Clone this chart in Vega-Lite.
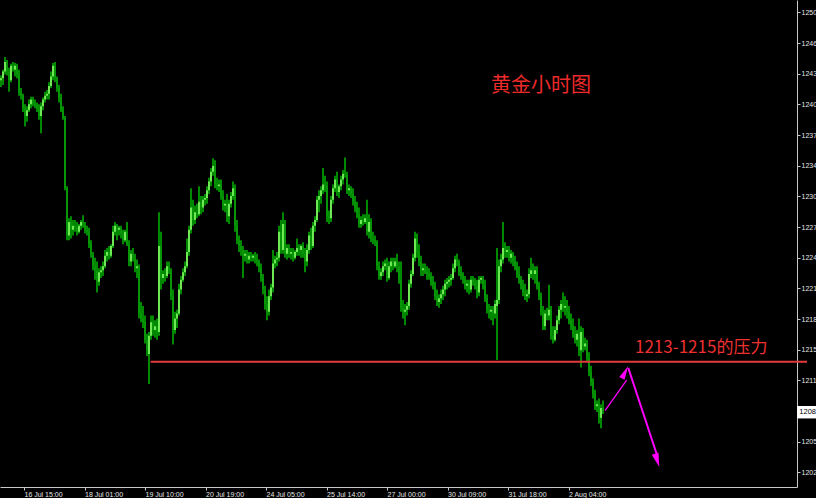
{
"$schema": "https://vega.github.io/schema/vega-lite/v6.json",
"width": 797,
"height": 487,
"autosize": {"type": "none"},
"padding": {"left": 0, "top": 0, "right": 19, "bottom": 11},
"background": "#000000",
"config": {
  "view": {"stroke": null},
  "axis": {"grid": false, "domainColor": "#c8c8c8", "tickColor": "#c8c8c8", "labelColor": "#e6e6e6", "labelFont": "Liberation Sans", "labelFontSize": 7, "title": null, "tickSize": 3, "labelOverlap": false, "labelFlush": false, "tickCount": 40},
  "axisX": {"labelAlign": "left", "labelBaseline": "top", "labelPadding": 0},
  "axisY": {"labelAlign": "left", "labelBaseline": "middle", "labelPadding": 1}
},
"datasets": {
"bars": [
{"i":0,"o":1243.0,"h":1243.5,"l":1242.3,"c":1243.2},
{"i":1,"o":1243.2,"h":1244.1,"l":1242.5,"c":1243.9},
{"i":2,"o":1243.9,"h":1245.4,"l":1243.6,"c":1244.9},
{"i":3,"o":1244.9,"h":1245.1,"l":1243.5,"c":1243.9},
{"i":4,"o":1243.9,"h":1244.3,"l":1241.8,"c":1243.0},
{"i":5,"o":1243.0,"h":1244.7,"l":1242.8,"c":1244.5},
{"i":6,"o":1244.5,"h":1244.9,"l":1243.9,"c":1244.1},
{"i":7,"o":1244.1,"h":1244.8,"l":1243.4,"c":1244.5},
{"i":8,"o":1244.5,"h":1244.7,"l":1243.2,"c":1243.6},
{"i":9,"o":1243.6,"h":1244.1,"l":1241.4,"c":1241.8},
{"i":10,"o":1241.8,"h":1242.2,"l":1241.0,"c":1241.4},
{"i":11,"o":1241.4,"h":1241.6,"l":1239.7,"c":1240.1},
{"i":12,"o":1240.1,"h":1240.5,"l":1238.2,"c":1239.3},
{"i":13,"o":1239.3,"h":1240.3,"l":1238.7,"c":1239.9},
{"i":14,"o":1239.9,"h":1241.0,"l":1239.7,"c":1240.5},
{"i":15,"o":1240.5,"h":1241.3,"l":1240.1,"c":1241.0},
{"i":16,"o":1241.0,"h":1241.3,"l":1240.3,"c":1240.6},
{"i":17,"o":1240.6,"h":1241.0,"l":1240.1,"c":1240.4},
{"i":18,"o":1240.4,"h":1240.7,"l":1239.7,"c":1240.1},
{"i":19,"o":1240.1,"h":1240.5,"l":1238.9,"c":1239.3},
{"i":20,"o":1239.3,"h":1240.7,"l":1237.5,"c":1240.3},
{"i":21,"o":1240.3,"h":1241.2,"l":1239.9,"c":1241.0},
{"i":22,"o":1241.0,"h":1241.8,"l":1240.7,"c":1241.4},
{"i":23,"o":1241.4,"h":1242.0,"l":1241.0,"c":1241.6},
{"i":24,"o":1241.6,"h":1242.8,"l":1241.0,"c":1242.4},
{"i":25,"o":1242.4,"h":1243.9,"l":1242.2,"c":1243.4},
{"i":26,"o":1243.4,"h":1244.8,"l":1243.0,"c":1244.5},
{"i":27,"o":1244.5,"h":1244.9,"l":1242.8,"c":1243.2},
{"i":28,"o":1243.2,"h":1243.4,"l":1241.8,"c":1242.2},
{"i":29,"o":1242.2,"h":1242.5,"l":1240.7,"c":1241.2},
{"i":30,"o":1241.2,"h":1241.6,"l":1239.7,"c":1239.9},
{"i":31,"o":1239.9,"h":1240.3,"l":1238.9,"c":1239.1},
{"i":32,"o":1239.1,"h":1239.3,"l":1231.6,"c":1231.8},
{"i":33,"o":1231.8,"h":1232.0,"l":1226.4,"c":1226.9},
{"i":34,"o":1226.9,"h":1228.7,"l":1226.4,"c":1228.3},
{"i":35,"o":1228.3,"h":1228.9,"l":1226.6,"c":1227.5},
{"i":36,"o":1227.5,"h":1228.5,"l":1226.9,"c":1227.9},
{"i":37,"o":1227.9,"h":1228.5,"l":1227.3,"c":1227.7},
{"i":38,"o":1227.7,"h":1228.3,"l":1226.9,"c":1227.3},
{"i":39,"o":1227.3,"h":1228.1,"l":1227.1,"c":1227.9},
{"i":40,"o":1227.9,"h":1228.5,"l":1227.5,"c":1228.3},
{"i":41,"o":1228.3,"h":1229.0,"l":1227.7,"c":1228.0},
{"i":42,"o":1228.0,"h":1228.3,"l":1227.1,"c":1227.5},
{"i":43,"o":1227.5,"h":1227.9,"l":1226.9,"c":1227.3},
{"i":44,"o":1227.3,"h":1227.7,"l":1225.6,"c":1226.0},
{"i":45,"o":1226.0,"h":1226.4,"l":1224.6,"c":1224.9},
{"i":46,"o":1224.9,"h":1225.2,"l":1223.3,"c":1223.7},
{"i":47,"o":1223.7,"h":1224.6,"l":1222.3,"c":1223.3},
{"i":48,"o":1223.3,"h":1224.2,"l":1221.0,"c":1222.1},
{"i":49,"o":1222.1,"h":1223.5,"l":1221.7,"c":1223.1},
{"i":50,"o":1223.1,"h":1223.7,"l":1222.5,"c":1223.3},
{"i":51,"o":1223.3,"h":1224.2,"l":1222.7,"c":1223.7},
{"i":52,"o":1223.7,"h":1225.4,"l":1223.5,"c":1224.8},
{"i":53,"o":1224.8,"h":1225.6,"l":1224.2,"c":1225.2},
{"i":54,"o":1225.2,"h":1225.8,"l":1224.4,"c":1224.8},
{"i":55,"o":1224.8,"h":1226.0,"l":1224.6,"c":1225.8},
{"i":56,"o":1225.8,"h":1227.9,"l":1225.6,"c":1227.3},
{"i":57,"o":1227.3,"h":1228.3,"l":1226.9,"c":1227.9},
{"i":58,"o":1227.9,"h":1228.1,"l":1226.4,"c":1227.5},
{"i":59,"o":1227.5,"h":1227.9,"l":1226.9,"c":1227.7},
{"i":60,"o":1227.7,"h":1227.9,"l":1226.6,"c":1227.1},
{"i":61,"o":1227.1,"h":1227.5,"l":1226.0,"c":1226.4},
{"i":62,"o":1226.4,"h":1227.5,"l":1226.2,"c":1227.3},
{"i":63,"o":1227.3,"h":1228.3,"l":1225.8,"c":1226.0},
{"i":64,"o":1226.0,"h":1226.4,"l":1223.7,"c":1224.2},
{"i":65,"o":1224.2,"h":1225.4,"l":1223.7,"c":1225.0},
{"i":66,"o":1225.0,"h":1225.6,"l":1224.2,"c":1224.6},
{"i":67,"o":1224.6,"h":1225.0,"l":1223.1,"c":1223.5},
{"i":68,"o":1223.5,"h":1224.4,"l":1222.5,"c":1223.7},
{"i":69,"o":1223.7,"h":1223.9,"l":1218.3,"c":1218.8},
{"i":70,"o":1218.8,"h":1220.0,"l":1217.9,"c":1218.3},
{"i":71,"o":1218.3,"h":1219.6,"l":1217.3,"c":1217.9},
{"i":72,"o":1217.9,"h":1218.6,"l":1215.7,"c":1216.1},
{"i":73,"o":1216.1,"h":1216.7,"l":1214.4,"c":1215.0},
{"i":74,"o":1214.6,"h":1216.9,"l":1211.5,"c":1216.5},
{"i":75,"o":1216.5,"h":1218.6,"l":1216.1,"c":1217.9},
{"i":76,"o":1217.9,"h":1218.6,"l":1216.5,"c":1217.1},
{"i":77,"o":1217.1,"h":1218.1,"l":1216.3,"c":1217.5},
{"i":78,"o":1217.5,"h":1218.3,"l":1216.1,"c":1216.9},
{"i":79,"o":1216.9,"h":1229.3,"l":1216.5,"c":1225.8},
{"i":80,"o":1225.8,"h":1227.3,"l":1221.3,"c":1222.5},
{"i":81,"o":1222.5,"h":1223.3,"l":1221.9,"c":1222.9},
{"i":82,"o":1222.9,"h":1223.5,"l":1222.1,"c":1222.7},
{"i":83,"o":1222.7,"h":1224.2,"l":1222.5,"c":1223.7},
{"i":84,"o":1223.7,"h":1224.2,"l":1222.9,"c":1223.3},
{"i":85,"o":1223.3,"h":1223.5,"l":1220.2,"c":1220.6},
{"i":86,"o":1220.6,"h":1221.3,"l":1215.6,"c":1217.1},
{"i":87,"o":1217.1,"h":1219.0,"l":1216.7,"c":1218.3},
{"i":88,"o":1218.3,"h":1219.2,"l":1217.3,"c":1218.8},
{"i":89,"o":1218.8,"h":1221.9,"l":1218.6,"c":1221.3},
{"i":90,"o":1221.3,"h":1222.7,"l":1220.8,"c":1222.3},
{"i":91,"o":1222.3,"h":1223.5,"l":1222.1,"c":1223.1},
{"i":92,"o":1223.1,"h":1224.2,"l":1222.7,"c":1223.7},
{"i":93,"o":1223.7,"h":1226.6,"l":1223.5,"c":1225.2},
{"i":94,"o":1225.2,"h":1227.9,"l":1224.8,"c":1227.5},
{"i":95,"o":1227.5,"h":1231.8,"l":1227.1,"c":1229.8},
{"i":96,"o":1229.8,"h":1230.6,"l":1227.9,"c":1228.5},
{"i":97,"o":1228.5,"h":1230.0,"l":1228.1,"c":1229.3},
{"i":98,"o":1229.3,"h":1230.2,"l":1228.7,"c":1229.1},
{"i":99,"o":1229.1,"h":1232.0,"l":1228.9,"c":1230.4},
{"i":100,"o":1230.4,"h":1231.0,"l":1229.1,"c":1229.8},
{"i":101,"o":1229.8,"h":1231.0,"l":1229.3,"c":1230.6},
{"i":102,"o":1230.6,"h":1231.2,"l":1230.0,"c":1230.8},
{"i":103,"o":1230.8,"h":1232.0,"l":1230.2,"c":1231.6},
{"i":104,"o":1231.6,"h":1232.9,"l":1231.2,"c":1232.5},
{"i":105,"o":1232.5,"h":1233.9,"l":1232.0,"c":1233.5},
{"i":106,"o":1233.5,"h":1234.9,"l":1233.1,"c":1234.1},
{"i":107,"o":1234.1,"h":1234.7,"l":1231.8,"c":1232.2},
{"i":108,"o":1232.2,"h":1232.9,"l":1231.6,"c":1232.0},
{"i":109,"o":1232.0,"h":1232.7,"l":1231.4,"c":1232.2},
{"i":110,"o":1232.2,"h":1232.7,"l":1230.6,"c":1231.0},
{"i":111,"o":1231.0,"h":1231.6,"l":1229.5,"c":1230.0},
{"i":112,"o":1230.0,"h":1230.6,"l":1229.3,"c":1230.2},
{"i":113,"o":1230.2,"h":1231.2,"l":1228.3,"c":1228.9},
{"i":114,"o":1228.9,"h":1230.6,"l":1228.1,"c":1230.2},
{"i":115,"o":1230.2,"h":1231.4,"l":1229.8,"c":1231.0},
{"i":116,"o":1231.0,"h":1232.5,"l":1230.6,"c":1231.8},
{"i":117,"o":1231.8,"h":1232.2,"l":1227.3,"c":1227.9},
{"i":118,"o":1227.9,"h":1228.5,"l":1226.0,"c":1226.4},
{"i":119,"o":1226.4,"h":1226.9,"l":1225.2,"c":1225.8},
{"i":120,"o":1225.8,"h":1226.4,"l":1224.8,"c":1225.4},
{"i":121,"o":1225.4,"h":1225.8,"l":1222.5,"c":1224.8},
{"i":122,"o":1224.8,"h":1225.4,"l":1224.2,"c":1225.0},
{"i":123,"o":1225.0,"h":1225.4,"l":1224.0,"c":1224.4},
{"i":124,"o":1224.4,"h":1225.2,"l":1224.0,"c":1224.8},
{"i":125,"o":1224.8,"h":1225.2,"l":1224.2,"c":1224.6},
{"i":126,"o":1224.6,"h":1225.0,"l":1224.2,"c":1224.8},
{"i":127,"o":1224.8,"h":1225.2,"l":1224.0,"c":1224.4},
{"i":128,"o":1224.4,"h":1225.0,"l":1223.7,"c":1224.2},
{"i":129,"o":1224.2,"h":1224.4,"l":1223.1,"c":1223.5},
{"i":130,"o":1223.5,"h":1224.0,"l":1222.1,"c":1222.5},
{"i":131,"o":1222.5,"h":1222.9,"l":1220.8,"c":1221.3},
{"i":132,"o":1221.3,"h":1221.7,"l":1219.2,"c":1219.8},
{"i":133,"o":1219.8,"h":1220.6,"l":1218.1,"c":1219.0},
{"i":134,"o":1219.0,"h":1221.3,"l":1218.6,"c":1220.6},
{"i":135,"o":1220.6,"h":1221.9,"l":1220.2,"c":1221.5},
{"i":136,"o":1221.5,"h":1225.4,"l":1221.0,"c":1224.0},
{"i":137,"o":1224.0,"h":1224.8,"l":1223.5,"c":1224.4},
{"i":138,"o":1224.4,"h":1225.2,"l":1223.7,"c":1224.6},
{"i":139,"o":1224.6,"h":1227.9,"l":1224.2,"c":1227.3},
{"i":140,"o":1227.3,"h":1228.5,"l":1225.0,"c":1225.4},
{"i":141,"o":1225.4,"h":1229.3,"l":1225.0,"c":1228.1},
{"i":142,"o":1228.1,"h":1228.5,"l":1224.6,"c":1225.0},
{"i":143,"o":1225.0,"h":1226.0,"l":1224.4,"c":1225.6},
{"i":144,"o":1225.6,"h":1226.0,"l":1224.6,"c":1225.0},
{"i":145,"o":1225.0,"h":1225.6,"l":1224.4,"c":1225.2},
{"i":146,"o":1225.2,"h":1225.6,"l":1224.2,"c":1224.6},
{"i":147,"o":1224.6,"h":1225.4,"l":1224.4,"c":1225.2},
{"i":148,"o":1225.2,"h":1226.6,"l":1224.8,"c":1225.6},
{"i":149,"o":1225.6,"h":1226.0,"l":1224.8,"c":1225.4},
{"i":150,"o":1225.4,"h":1226.0,"l":1224.6,"c":1225.8},
{"i":151,"o":1225.8,"h":1226.2,"l":1224.6,"c":1225.0},
{"i":152,"o":1225.0,"h":1225.6,"l":1223.1,"c":1224.2},
{"i":153,"o":1224.2,"h":1226.0,"l":1223.7,"c":1225.4},
{"i":154,"o":1225.4,"h":1227.3,"l":1225.0,"c":1226.9},
{"i":155,"o":1226.9,"h":1227.7,"l":1225.4,"c":1225.8},
{"i":156,"o":1225.8,"h":1228.3,"l":1225.6,"c":1227.9},
{"i":157,"o":1227.9,"h":1228.9,"l":1227.3,"c":1228.5},
{"i":158,"o":1228.5,"h":1231.0,"l":1228.3,"c":1230.6},
{"i":159,"o":1230.6,"h":1231.6,"l":1229.3,"c":1231.0},
{"i":160,"o":1231.0,"h":1232.0,"l":1230.2,"c":1231.6},
{"i":161,"o":1231.6,"h":1233.9,"l":1231.2,"c":1232.2},
{"i":162,"o":1232.2,"h":1233.1,"l":1231.4,"c":1232.0},
{"i":163,"o":1232.0,"h":1232.5,"l":1228.3,"c":1228.9},
{"i":164,"o":1228.9,"h":1229.5,"l":1228.1,"c":1228.7},
{"i":165,"o":1228.7,"h":1231.0,"l":1228.3,"c":1230.6},
{"i":166,"o":1230.6,"h":1232.2,"l":1230.2,"c":1231.8},
{"i":167,"o":1231.8,"h":1233.1,"l":1231.4,"c":1232.7},
{"i":168,"o":1232.7,"h":1233.5,"l":1231.0,"c":1231.4},
{"i":169,"o":1231.4,"h":1232.2,"l":1230.8,"c":1232.0},
{"i":170,"o":1232.0,"h":1233.1,"l":1231.6,"c":1232.7},
{"i":171,"o":1232.7,"h":1233.7,"l":1232.2,"c":1233.3},
{"i":172,"o":1233.3,"h":1235.0,"l":1232.9,"c":1233.2},
{"i":173,"o":1233.2,"h":1233.5,"l":1231.2,"c":1231.6},
{"i":174,"o":1231.6,"h":1232.2,"l":1231.0,"c":1231.8},
{"i":175,"o":1231.8,"h":1232.0,"l":1230.8,"c":1231.2},
{"i":176,"o":1231.2,"h":1231.8,"l":1230.0,"c":1230.4},
{"i":177,"o":1230.4,"h":1231.0,"l":1229.3,"c":1229.8},
{"i":178,"o":1229.8,"h":1230.4,"l":1228.7,"c":1229.1},
{"i":179,"o":1229.1,"h":1229.8,"l":1227.7,"c":1228.1},
{"i":180,"o":1228.1,"h":1228.9,"l":1227.7,"c":1228.5},
{"i":181,"o":1228.5,"h":1229.1,"l":1227.9,"c":1228.3},
{"i":182,"o":1228.3,"h":1229.1,"l":1228.1,"c":1228.7},
{"i":183,"o":1228.7,"h":1230.6,"l":1226.9,"c":1227.3},
{"i":184,"o":1227.3,"h":1229.1,"l":1226.6,"c":1228.3},
{"i":185,"o":1228.3,"h":1228.7,"l":1226.2,"c":1226.6},
{"i":186,"o":1226.6,"h":1227.3,"l":1226.0,"c":1226.4},
{"i":187,"o":1226.4,"h":1226.9,"l":1225.8,"c":1226.2},
{"i":188,"o":1226.2,"h":1226.4,"l":1223.3,"c":1223.7},
{"i":189,"o":1223.7,"h":1224.2,"l":1222.3,"c":1222.7},
{"i":190,"o":1222.7,"h":1223.5,"l":1222.3,"c":1223.1},
{"i":191,"o":1223.1,"h":1224.2,"l":1222.7,"c":1223.7},
{"i":192,"o":1223.7,"h":1224.4,"l":1223.3,"c":1224.0},
{"i":193,"o":1224.0,"h":1224.6,"l":1222.1,"c":1222.5},
{"i":194,"o":1222.5,"h":1224.2,"l":1222.3,"c":1223.7},
{"i":195,"o":1223.7,"h":1224.6,"l":1223.1,"c":1224.2},
{"i":196,"o":1224.2,"h":1224.6,"l":1223.3,"c":1223.7},
{"i":197,"o":1223.7,"h":1224.6,"l":1223.5,"c":1224.2},
{"i":198,"o":1224.2,"h":1225.0,"l":1223.1,"c":1223.7},
{"i":199,"o":1223.7,"h":1224.2,"l":1221.9,"c":1222.3},
{"i":200,"o":1222.3,"h":1224.2,"l":1219.0,"c":1219.4},
{"i":201,"o":1219.4,"h":1220.2,"l":1218.3,"c":1219.0},
{"i":202,"o":1219.0,"h":1219.8,"l":1217.6,"c":1219.2},
{"i":203,"o":1219.2,"h":1220.0,"l":1218.6,"c":1219.6},
{"i":204,"o":1219.6,"h":1222.3,"l":1219.2,"c":1221.9},
{"i":205,"o":1221.9,"h":1223.3,"l":1221.5,"c":1222.9},
{"i":206,"o":1222.9,"h":1225.0,"l":1222.7,"c":1224.6},
{"i":207,"o":1224.6,"h":1227.3,"l":1224.2,"c":1226.6},
{"i":208,"o":1226.6,"h":1227.1,"l":1224.6,"c":1225.2},
{"i":209,"o":1225.2,"h":1226.0,"l":1223.7,"c":1224.2},
{"i":210,"o":1224.2,"h":1224.8,"l":1222.7,"c":1223.3},
{"i":211,"o":1223.3,"h":1224.0,"l":1222.7,"c":1223.5},
{"i":212,"o":1223.5,"h":1224.0,"l":1222.9,"c":1223.1},
{"i":213,"o":1223.1,"h":1223.7,"l":1222.3,"c":1222.9},
{"i":214,"o":1222.9,"h":1223.5,"l":1222.3,"c":1222.7},
{"i":215,"o":1222.7,"h":1223.1,"l":1221.7,"c":1222.1},
{"i":216,"o":1222.1,"h":1222.7,"l":1221.3,"c":1221.7},
{"i":217,"o":1221.7,"h":1222.1,"l":1220.2,"c":1220.6},
{"i":218,"o":1220.6,"h":1221.3,"l":1219.6,"c":1220.0},
{"i":219,"o":1220.0,"h":1220.8,"l":1219.4,"c":1220.4},
{"i":220,"o":1220.4,"h":1221.3,"l":1219.8,"c":1220.8},
{"i":221,"o":1220.8,"h":1221.7,"l":1220.2,"c":1221.3},
{"i":222,"o":1221.3,"h":1222.3,"l":1220.6,"c":1221.9},
{"i":223,"o":1221.9,"h":1222.5,"l":1221.3,"c":1222.1},
{"i":224,"o":1222.1,"h":1222.7,"l":1221.5,"c":1222.3},
{"i":225,"o":1222.3,"h":1222.9,"l":1221.7,"c":1222.5},
{"i":226,"o":1222.5,"h":1224.0,"l":1222.3,"c":1223.5},
{"i":227,"o":1223.5,"h":1224.8,"l":1223.1,"c":1224.4},
{"i":228,"o":1224.4,"h":1225.0,"l":1223.7,"c":1224.2},
{"i":229,"o":1224.2,"h":1224.4,"l":1222.7,"c":1223.1},
{"i":230,"o":1223.1,"h":1223.7,"l":1222.3,"c":1222.7},
{"i":231,"o":1222.7,"h":1223.1,"l":1221.9,"c":1222.3},
{"i":232,"o":1222.3,"h":1222.7,"l":1221.3,"c":1221.7},
{"i":233,"o":1221.7,"h":1222.3,"l":1221.0,"c":1221.9},
{"i":234,"o":1221.9,"h":1222.3,"l":1220.8,"c":1221.3},
{"i":235,"o":1221.3,"h":1222.7,"l":1221.0,"c":1222.3},
{"i":236,"o":1222.3,"h":1222.7,"l":1221.7,"c":1222.1},
{"i":237,"o":1222.1,"h":1222.5,"l":1221.3,"c":1221.7},
{"i":238,"o":1221.7,"h":1222.3,"l":1220.4,"c":1221.0},
{"i":239,"o":1221.0,"h":1222.7,"l":1220.6,"c":1222.3},
{"i":240,"o":1222.3,"h":1222.7,"l":1221.9,"c":1222.5},
{"i":241,"o":1222.5,"h":1222.7,"l":1221.3,"c":1221.7},
{"i":242,"o":1221.7,"h":1222.3,"l":1220.0,"c":1220.4},
{"i":243,"o":1220.4,"h":1220.8,"l":1218.8,"c":1219.2},
{"i":244,"o":1219.2,"h":1219.8,"l":1218.3,"c":1219.0},
{"i":245,"o":1219.0,"h":1219.6,"l":1218.1,"c":1219.2},
{"i":246,"o":1219.2,"h":1219.6,"l":1217.6,"c":1218.8},
{"i":247,"o":1218.8,"h":1220.2,"l":1218.3,"c":1219.8},
{"i":248,"o":1219.6,"h":1225.6,"l":1214.0,"c":1220.2},
{"i":249,"o":1220.2,"h":1224.4,"l":1219.8,"c":1223.7},
{"i":250,"o":1223.7,"h":1225.0,"l":1223.1,"c":1224.4},
{"i":251,"o":1224.4,"h":1228.3,"l":1224.0,"c":1225.6},
{"i":252,"o":1225.6,"h":1226.2,"l":1224.6,"c":1225.2},
{"i":253,"o":1225.2,"h":1225.8,"l":1224.6,"c":1225.4},
{"i":254,"o":1225.4,"h":1225.8,"l":1224.2,"c":1224.6},
{"i":255,"o":1224.6,"h":1225.4,"l":1224.0,"c":1225.0},
{"i":256,"o":1225.0,"h":1225.2,"l":1223.7,"c":1224.2},
{"i":257,"o":1224.2,"h":1224.8,"l":1223.3,"c":1223.7},
{"i":258,"o":1223.7,"h":1224.2,"l":1222.5,"c":1222.9},
{"i":259,"o":1222.9,"h":1223.7,"l":1221.9,"c":1222.3},
{"i":260,"o":1222.3,"h":1222.7,"l":1221.3,"c":1221.7},
{"i":261,"o":1221.7,"h":1222.3,"l":1220.6,"c":1221.0},
{"i":262,"o":1221.0,"h":1221.9,"l":1220.2,"c":1220.6},
{"i":263,"o":1220.6,"h":1221.3,"l":1220.0,"c":1220.8},
{"i":264,"o":1220.8,"h":1223.5,"l":1220.4,"c":1222.9},
{"i":265,"o":1222.9,"h":1224.6,"l":1222.5,"c":1223.3},
{"i":266,"o":1223.3,"h":1224.0,"l":1222.3,"c":1222.9},
{"i":267,"o":1222.9,"h":1223.7,"l":1221.9,"c":1223.3},
{"i":268,"o":1223.3,"h":1223.7,"l":1221.3,"c":1221.7},
{"i":269,"o":1221.7,"h":1222.1,"l":1220.2,"c":1220.6},
{"i":270,"o":1220.6,"h":1221.0,"l":1218.6,"c":1219.0},
{"i":271,"o":1219.0,"h":1219.6,"l":1217.1,"c":1217.5},
{"i":272,"o":1217.5,"h":1219.2,"l":1217.1,"c":1218.8},
{"i":273,"o":1218.8,"h":1219.4,"l":1218.1,"c":1218.6},
{"i":274,"o":1218.6,"h":1221.8,"l":1218.1,"c":1219.2},
{"i":275,"o":1219.2,"h":1219.6,"l":1216.1,"c":1216.5},
{"i":276,"o":1216.5,"h":1217.5,"l":1215.7,"c":1216.1},
{"i":277,"o":1216.1,"h":1217.5,"l":1215.9,"c":1217.1},
{"i":278,"o":1217.1,"h":1218.6,"l":1216.7,"c":1218.1},
{"i":279,"o":1218.1,"h":1219.6,"l":1217.7,"c":1219.2},
{"i":280,"o":1219.2,"h":1220.2,"l":1218.3,"c":1219.8},
{"i":281,"o":1219.8,"h":1221.0,"l":1219.0,"c":1219.4},
{"i":282,"o":1219.4,"h":1220.6,"l":1218.6,"c":1219.6},
{"i":283,"o":1219.6,"h":1220.2,"l":1218.3,"c":1219.0},
{"i":284,"o":1219.0,"h":1219.6,"l":1217.7,"c":1218.1},
{"i":285,"o":1218.1,"h":1218.8,"l":1217.1,"c":1217.5},
{"i":286,"o":1217.5,"h":1218.3,"l":1216.3,"c":1216.7},
{"i":287,"o":1216.7,"h":1217.5,"l":1215.7,"c":1216.1},
{"i":288,"o":1216.1,"h":1217.1,"l":1215.4,"c":1216.7},
{"i":289,"o":1216.7,"h":1218.3,"l":1214.4,"c":1215.0},
{"i":290,"o":1215.0,"h":1217.5,"l":1213.2,"c":1216.9},
{"i":291,"o":1216.9,"h":1217.3,"l":1214.8,"c":1215.4},
{"i":292,"o":1215.4,"h":1216.3,"l":1215.0,"c":1215.7},
{"i":293,"o":1215.7,"h":1216.1,"l":1213.8,"c":1214.2},
{"i":294,"o":1214.2,"h":1214.8,"l":1212.3,"c":1212.7},
{"i":295,"o":1212.7,"h":1213.4,"l":1211.3,"c":1211.7},
{"i":296,"o":1211.7,"h":1212.1,"l":1210.0,"c":1210.5},
{"i":297,"o":1210.5,"h":1210.9,"l":1208.8,"c":1209.2},
{"i":298,"o":1209.2,"h":1209.8,"l":1208.6,"c":1209.4},
{"i":299,"o":1209.4,"h":1210.0,"l":1207.4,"c":1208.0},
{"i":300,"o":1208.0,"h":1209.4,"l":1206.9,"c":1209.0},
{"i":301,"o":1209.0,"h":1209.8,"l":1208.4,"c":1208.6}
]
},
"layer": [
{
  "data": {"name": "bars"},
  "mark": {"type": "rule", "strokeWidth": 1.3, "color": "#00d200"},
  "encoding": {
    "x": {"field": "i", "type": "quantitative", "scale": {"domain": [-0.5, 398], "nice": false, "zero": false, "padding": 0},
      "axis": {"values": [11.5, 41.75, 72, 102.25, 132.5, 162.75, 193, 223.25, 253.5, 283.75],
        "labelExpr": "['16 Jul 15:00','18 Jul 01:00','19 Jul 10:00','20 Jul 19:00','24 Jul 05:00','25 Jul 14:00','27 Jul 00:00','30 Jul 09:00','31 Jul 18:00','2 Aug 04:00'][indexof([11.5,41.75,72,102.25,132.5,162.75,193,223.25,253.5,283.75], datum.value)]"}},
    "y": {"field": "l", "type": "quantitative", "scale": {"domain": [1200.82, 1251.32], "nice": false, "zero": false, "padding": 0},
      "axis": {"orient": "right", "tickCount": 40, "values": [1250.04, 1246.86, 1243.68, 1240.5, 1237.32, 1234.14, 1230.96, 1227.78, 1224.6, 1221.42, 1218.24, 1215.06, 1211.88, 1205.52, 1202.34], "labelExpr": "'' + floor(datum.value)"}},
    "y2": {"field": "h"}
  }
},
{
  "data": {"name": "bars"},
  "mark": {"type": "bar", "size": 1.6},
  "encoding": {
    "x": {"field": "i", "type": "quantitative"},
    "y": {"field": "o", "type": "quantitative"},
    "y2": {"field": "c"},
    "color": {"condition": {"test": "datum.c >= datum.o", "value": "#8cff6a"}, "value": "#0a9a0a"}
  }
},
{
  "data": {"values": [{"i": 74.85, "i2": 403, "p": 1213.82}]},
  "mark": {"type": "rule", "color": "#e33b3b", "strokeWidth": 2, "clip": false},
  "encoding": {
    "x": {"field": "i", "type": "quantitative"},
    "x2": {"field": "i2"},
    "y": {"field": "p", "type": "quantitative"}
  }
},
{
  "data": {"values": [{"i": 302, "p": 1208.73, "i2": 312.85, "p2": 1211.9}]},
  "mark": {"type": "rule", "color": "#ff00ff", "strokeWidth": 1.3},
  "encoding": {
    "x": {"field": "i", "type": "quantitative"},
    "x2": {"field": "i2"},
    "y": {"field": "p", "type": "quantitative"},
    "y2": {"field": "p2"}
  }
},
{
  "data": {"values": [{"i": 313.65, "p": 1213.16, "i2": 327.75, "p2": 1204.3}]},
  "mark": {"type": "rule", "color": "#ff00ff", "strokeWidth": 2},
  "encoding": {
    "x": {"field": "i", "type": "quantitative"},
    "x2": {"field": "i2"},
    "y": {"field": "p", "type": "quantitative"},
    "y2": {"field": "p2"}
  }
},
{
  "data": {"values": [{"i": 312.05, "p": 1212.73}]},
  "mark": {"type": "point", "shape": "M0,-1L0.42,1L-0.42,1Z", "filled": true, "color": "#ff00ff", "opacity": 1, "size": 196, "angle": 27.5},
  "encoding": {
    "x": {"field": "i", "type": "quantitative"},
    "y": {"field": "p", "type": "quantitative"}
  }
},
{
  "data": {"values": [{"i": 328.1, "p": 1203.59}]},
  "mark": {"type": "point", "shape": "M0,-1L0.5,1L-0.5,1Z", "filled": true, "color": "#ff00ff", "opacity": 1, "size": 196, "angle": 162.6},
  "encoding": {
    "x": {"field": "i", "type": "quantitative"},
    "y": {"field": "p", "type": "quantitative"}
  }
},
{
  "data": {"values": [{"i": 270, "p": 1242.4, "t": "黄金小时图"}]},
  "mark": {"type": "text", "align": "center", "baseline": "middle", "font": "Noto Sans CJK SC", "fontSize": 20, "color": "#ee2a2a"},
  "encoding": {
    "x": {"field": "i", "type": "quantitative"},
    "y": {"field": "p", "type": "quantitative"},
    "text": {"field": "t"}
  }
},
{
  "data": {"values": [{"i": 317, "p": 1215.24, "t": "1213-1215的压力"}]},
  "mark": {"type": "text", "align": "left", "baseline": "middle", "font": "Noto Sans CJK SC", "fontSize": 17, "color": "#ee3030"},
  "encoding": {
    "x": {"field": "i", "type": "quantitative"},
    "y": {"field": "p", "type": "quantitative"},
    "text": {"field": "t"}
  }
},
{
  "data": {"values": [{"i": 398, "i2": 412, "p": 1209.22, "p2": 1207.93}]},
  "mark": {"type": "rect", "color": "#ffffff", "clip": false},
  "encoding": {
    "x": {"field": "i", "type": "quantitative"},
    "x2": {"field": "i2"},
    "y": {"field": "p", "type": "quantitative"},
    "y2": {"field": "p2"}
  }
},
{
  "data": {"values": [{"i": 399.15, "p": 1208.58, "t": "1208"}]},
  "mark": {"type": "text", "align": "left", "baseline": "middle", "font": "Liberation Sans", "fontSize": 7.5, "color": "#000000", "clip": false},
  "encoding": {
    "x": {"field": "i", "type": "quantitative"},
    "y": {"field": "p", "type": "quantitative"},
    "text": {"field": "t"}
  }
}
]
}
